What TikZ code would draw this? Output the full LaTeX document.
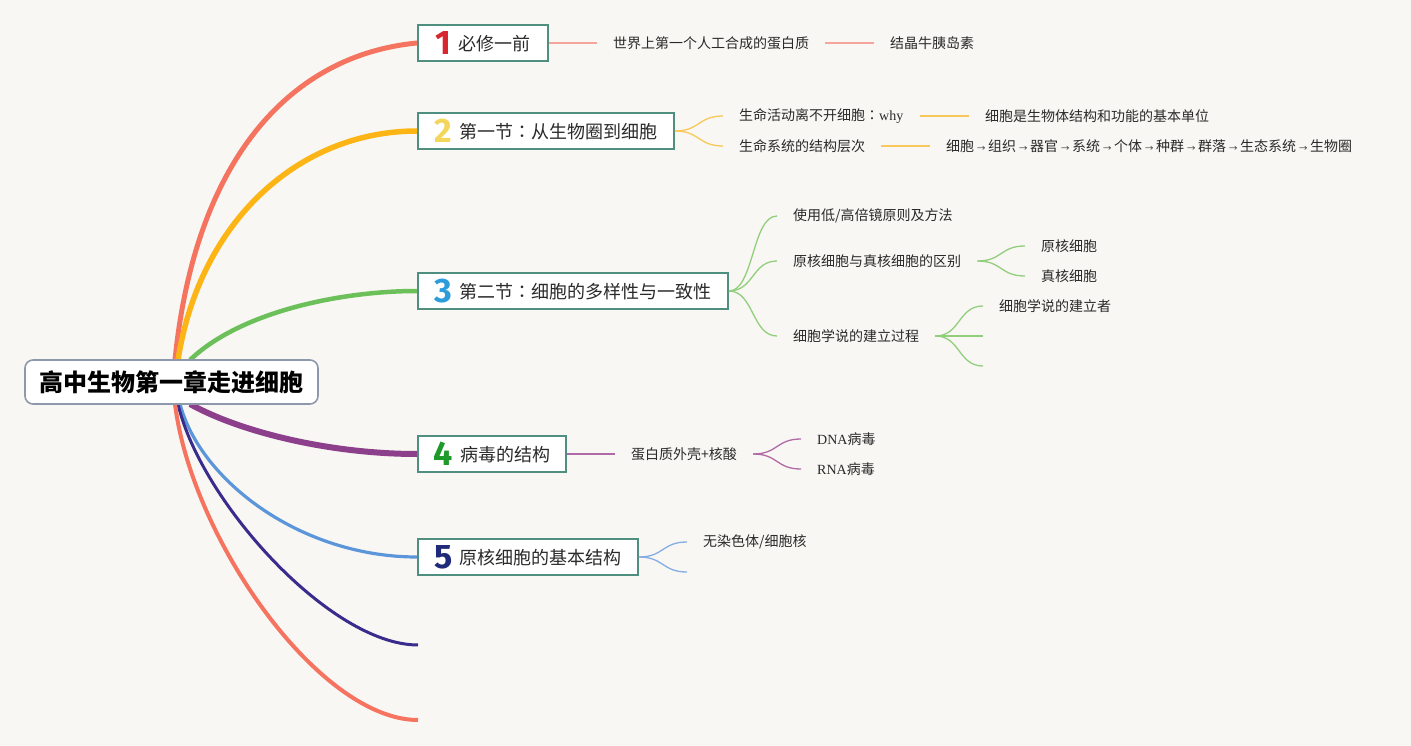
\documentclass[tikz,border=0pt]{standalone}
\usepackage{fontspec}
\setmainfont{Liberation Serif}
\newfontfamily\cjk{Noto Sans CJK SC}
\newfontfamily\cjkjp{Noto Sans CJK JP}
\newfontfamily\numfont{Fira Sans}
\definecolor{bg}{HTML}{F8F7F3}
\definecolor{boxc}{HTML}{4F8F80}
\definecolor{rootc}{HTML}{8D98AB}
\definecolor{cA}{HTML}{F47460}
\definecolor{cB}{HTML}{FDB515}
\definecolor{cC}{HTML}{6CC05A}
\definecolor{cD}{HTML}{8C3F8A}
\definecolor{cE}{HTML}{5B96DA}
\definecolor{cF}{HTML}{3A2C8C}
\definecolor{cG}{HTML}{F5735F}
\definecolor{lA}{HTML}{F6A59B}
\definecolor{lB}{HTML}{F9C85A}
\definecolor{lC}{HTML}{92CF7C}
\definecolor{lD}{HTML}{B06AA8}
\definecolor{lE}{HTML}{86AEE3}
\definecolor{nA}{HTML}{D7262E}
\definecolor{nB}{HTML}{F3D65A}
\definecolor{nC}{HTML}{2D9CDB}
\definecolor{nD}{HTML}{1E9A2B}
\definecolor{nE}{HTML}{1F2A7A}
\definecolor{txt}{HTML}{2A2A2A}
\newcommand\numico[2]{\raisebox{-4pt}{\color{#1}\numfont\bfseries\fontsize{34}{34}\selectfont #2}\hspace{7pt}}
\newcommand\colonjp{{\cjkjp ：}}
\newcommand\sar{\hspace{2.8pt}\scalebox{0.6}{→}\hspace{2.8pt}}
\begin{document}
\begin{tikzpicture}[x=1pt,y=-1pt,
  topic/.style={draw=boxc, line width=1.8pt, fill=white, minimum height=36pt,
    inner xsep=0pt, inner ysep=0pt, text=txt, font=\cjk\fontsize{18}{20}\selectfont},
  rootbox/.style={draw=rootc, line width=1.6pt, fill=white, rounded corners=8pt,
    minimum width=293pt, minimum height=44pt, inner sep=0pt, text=black,
    font=\cjk\bfseries\fontsize{24}{26}\selectfont},
  leaf/.style={anchor=west, inner xsep=16pt, inner ysep=2pt, text=txt,
    font=\cjk\fontsize{14}{16}\selectfont},
  thin/.style={line width=1.3pt}
]
\useasboundingbox (0,0) rectangle (1411,746);
\fill[bg] (0,0) rectangle (1411,746);

% anchors of main branches
\coordinate (oA) at (175,360);
\coordinate (oB) at (178,360);
\coordinate (oC) at (190,360);
\coordinate (oD) at (190,404);
\coordinate (oE) at (180,404);
\coordinate (oF) at (178,404);
\coordinate (oG) at (175,404);
\coordinate (eF) at (418,645);
\coordinate (eG) at (418,720);

% topic boxes
\node[topic, minimum width=130pt] (b1) at (483,43) {\numico{nA}{1}必修一前};
\node[topic, minimum width=256pt] (b2) at (546,131) {\numico{nB}{2}第一节\colonjp 从生物圈到细胞};
\node[topic, minimum width=310pt] (b3) at (573,291) {\numico{nC}{3}第二节\colonjp 细胞的多样性与一致性};
\node[topic, minimum width=148pt] (b4) at (492,454) {\numico{nD}{4}病毒的结构};
\node[topic, minimum width=220pt] (b5) at (528,557) {\numico{nE}{5}原核细胞的基本结构};

% main branches
\draw[cA, line width=5pt] (oA) .. controls (195,160) and (290,55) .. (b1.west);
\draw[cB, line width=5.5pt] (oB) .. controls (200,220) and (300,131) .. (b2.west);
\draw[cC, line width=4.5pt] (oC) .. controls (240,312) and (340,291) .. (b3.west);
\draw[cD, line width=6pt] (oD) .. controls (240,432) and (330,454) .. (b4.west);
\draw[cE, line width=3.2pt] (oE) .. controls (200,480) and (300,557) .. (b5.west);
\draw[cF, line width=3pt] (oF) .. controls (200,500) and (330,645) .. (eF);
\draw[cG, line width=4pt] (oG) .. controls (192,540) and (320,720) .. (eG);

% root
\node[rootbox] (root) at (171.5,382) {高中生物第一章走进细胞};

% branch 1
\node[leaf] (n1a) at (597,43) {世界上第一个人工合成的蛋白质};
\node[leaf] (n1b) at (874,43) {结晶牛胰岛素};
\draw[lA, thin] (b1.east) -- (n1a.west);
\draw[lA, thin] (n1a.east) -- (n1b.west);

% branch 2
\node[leaf] (n2a) at (723,116) {生命活动离不开细胞\colonjp{\rmfamily why}};
\node[leaf] (n2b) at (723,146) {生命系统的结构层次};
\node[leaf] (n2a1) at (969,116) {细胞是生物体结构和功能的基本单位};
\node[leaf] (n2b1) at (930,146) {细胞\sar 组织\sar 器官\sar 系统\sar 个体\sar 种群\sar 群落\sar 生态系统\sar 生物圈};
\draw[lB, thin] (b2.east) .. controls +(25,0) and +(-25,0) .. (n2a.west);
\draw[lB, thin] (b2.east) .. controls +(25,0) and +(-25,0) .. (n2b.west);
\draw[lB, thin] (n2a.east) -- (n2a1.west);
\draw[lB, thin] (n2b.east) -- (n2b1.west);

% branch 3
\node[leaf] (n3a) at (777,216) {使用低/高倍镜原则及方法};
\node[leaf] (n3b) at (777,261) {原核细胞与真核细胞的区别};
\node[leaf] (n3c) at (777,336) {细胞学说的建立过程};
\node[leaf] (n3b1) at (1025,246) {原核细胞};
\node[leaf] (n3b2) at (1025,276) {真核细胞};
\node[leaf] (n3c1) at (983,306) {细胞学说的建立者};
\coordinate (n3c2) at (983,336);
\coordinate (n3c3) at (983,366);
\foreach \t in {n3a,n3b,n3c}
  \draw[lC, thin] (b3.east) .. controls +(25,0) and +(-25,0) .. (\t.west);
\foreach \t in {n3b1,n3b2}
  \draw[lC, thin] (n3b.east) .. controls +(25,0) and +(-25,0) .. (\t.west);
\draw[lC, thin] (n3c.east) .. controls +(25,0) and +(-25,0) .. (n3c1.west);
\draw[lC, thin] (n3c.east) -- (n3c2);
\draw[lC, thin] (n3c.east) .. controls +(25,0) and +(-25,0) .. (n3c3);

% branch 4
\node[leaf] (n4a) at (615,454) {蛋白质外壳+核酸};
\node[leaf] (n4a1) at (801,439) {{\rmfamily DNA}病毒};
\node[leaf] (n4a2) at (801,469) {{\rmfamily RNA}病毒};
\draw[lD, thin] (b4.east) -- (n4a.west);
\draw[lD, thin] (n4a.east) .. controls +(25,0) and +(-25,0) .. (n4a1.west);
\draw[lD, thin] (n4a.east) .. controls +(25,0) and +(-25,0) .. (n4a2.west);

% branch 5
\node[leaf] (n5a) at (687,542) {无染色体/细胞核};
\coordinate (n5b) at (687,572);
\draw[lE, thin] (b5.east) .. controls +(25,0) and +(-25,0) .. (n5a.west);
\draw[lE, thin] (b5.east) .. controls +(25,0) and +(-25,0) .. (n5b);
\end{tikzpicture}
\end{document}
